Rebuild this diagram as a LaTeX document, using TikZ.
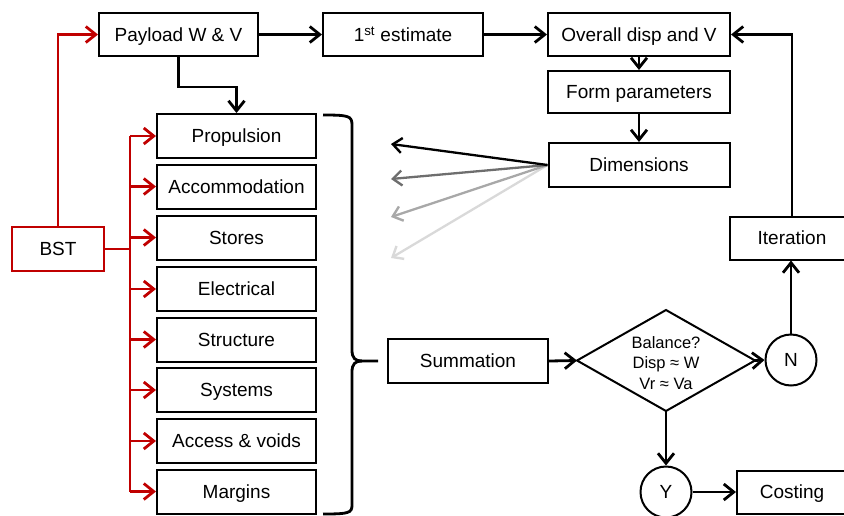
\documentclass[tikz,border=0pt]{standalone}
\usepackage{fontspec}
\setmainfont{Liberation Sans}
\usetikzlibrary{arrows.meta}
\definecolor{bred}{HTML}{C00000}
\definecolor{gA}{HTML}{6E6E6E}
\definecolor{gB}{HTML}{A8A8A8}
\definecolor{gC}{HTML}{D9D9D9}
\begin{document}
\begin{tikzpicture}[x=1pt,y=-1pt,
  box/.style={draw, line width=2pt, minimum height=43pt, inner sep=0pt, fill=white,
    text height=13.6pt, text depth=0pt,
    font=\fontsize{19}{22}\selectfont},
  lbox/.style={box, minimum width=159pt, minimum height=44pt},
  arr/.style={line width=2.8pt, -{Straight Barb[length=10pt,width=16pt,line width=2.8pt]}},
  rarr/.style={arr, draw=bred},
  rline/.style={line width=2.8pt, draw=bred},
  thin arr/.style={line width=2.3pt, -{Straight Barb[length=9pt,width=15pt,line width=2.4pt]}},
  circ/.style={circle, draw, line width=2pt, minimum size=51pt, inner sep=0pt,
    text height=13.6pt, text depth=0pt,
    font=\fontsize{19}{22}\selectfont},
  dia/.style={draw, line width=2pt, line join=miter},
  brace/.style={draw, line width=2.8pt},
]
\useasboundingbox (0,0) rectangle (844,515);
\clip (0,0) rectangle (844,515);

% top row
\node[box, minimum width=159pt] (payload) at (178.5,34.5) {Payload W \& V};
\node[box, minimum width=160pt] (est) at (403,34.5) {1\textsuperscript{st} estimate};
\node[box, minimum width=182pt] (overall) at (639,34.5) {Overall disp and V};
\node[box, minimum width=182pt, minimum height=42pt] (form) at (639,92) {Form parameters};
\node[box, minimum width=181pt, minimum height=44pt] (dims) at (639,165) {Dimensions};
\node[box, minimum width=124pt] (iter) at (792,238) {Iteration};

% left column
\node[lbox] (prop) at (236.5,136) {Propulsion};
\node[lbox] (acc) at (236.5,186.5) {Accommodation};
\node[lbox] (sto) at (236.5,237.5) {Stores};
\node[lbox] (ele) at (236.5,289) {Electrical};
\node[lbox] (str) at (236.5,339.5) {Structure};
\node[lbox] (sys) at (236.5,390) {Systems};
\node[lbox] (accv) at (236.5,441) {Access \& voids};
\node[lbox] (mar) at (236.5,491.5) {Margins};

\node[box, draw=bred, minimum width=92pt, minimum height=44pt] (bst) at (58,249) {BST};

% summation, decision
\node[box, minimum width=160pt, minimum height=44pt] (summ) at (468,361) {Summation};
\coordinate (dT) at (666,310);
\coordinate (dB) at (666,411);
\coordinate (dL) at (577,360.5);
\coordinate (dR) at (755,360.5);
\draw[dia] (dL) -- (dT) -- (dR) -- (dB) -- cycle;
\node[align=center, inner sep=0pt, font=\fontsize{16.5}{20.5}\selectfont] (bal) at (666,363)
  {Balance?\\Disp ≈ W\\Vr ≈ Va};
\node[circ] (N) at (791,360) {N};
\node[circ] (Y) at (666,492) {Y};
\node[box, minimum width=110pt, minimum height=43pt] (cost) at (792,492) {Costing};

% black connectors
\draw[arr] (payload.east) -- (est.west);
\draw[arr] (est.east) -- (overall.west);
\draw[arr] (overall.south) -- (form.north);
\draw[arr] (form.south) -- (dims.north);
\draw[arr] (iter.north) |- (overall.east);
\draw[arr] (N.north) -- (N.north |- iter.south);
\draw[arr] (dR) -- (N.west);
\draw[arr] (dB) -- (Y.north);
\draw[arr] (Y.east) -- (cost.west);
\draw[arr] (summ.east) -- (dL);
\draw[arr] (payload.south) -- ++(0,30) -| (prop.north);

% fan of arrows from Dimensions
\coordinate (f1) at (391,144);
\coordinate (f2) at (391,179);
\coordinate (f3) at (391,217);
\coordinate (f4) at (391,258);
\draw[thin arr, draw=gC] (dims.west) -- (f4);
\draw[thin arr, draw=gB] (dims.west) -- (f3);
\draw[thin arr, draw=gA] (dims.west) -- (f2);
\draw[thin arr, draw=black] (dims.west) -- (f1);

% brace
\draw[brace] (323,115) .. controls (349,115) and (352,116) .. (352,125)
  -- (352,350) .. controls (352,358) and (355,361) .. (362,361) -- (378,361);
\draw[brace] (362,361) .. controls (355,361) and (352,364) .. (352,372)
  -- (352,505) .. controls (352,513) and (349,514) .. (323,514);

% red connectors
\coordinate (trunk) at (130,249);
\draw[rarr] (bst.north) |- (payload.west);
\draw[rline] (bst.east) -- (trunk);
\draw[rline] (trunk |- prop.west) -- (trunk |- mar.west);
\foreach \b in {prop,acc,sto,ele,str,sys,accv,mar}
  \draw[rarr] (trunk |- \b.west) -- (\b.west);
\end{tikzpicture}
\end{document}
